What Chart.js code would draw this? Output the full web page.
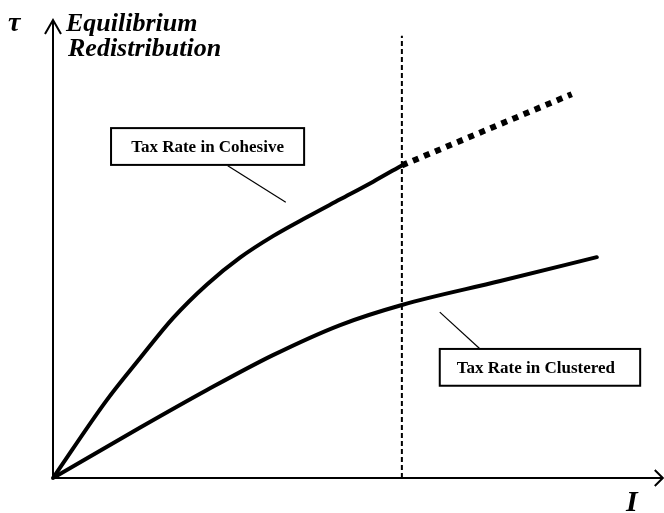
<!DOCTYPE html>
<html>
<head>
<meta charset="utf-8">
<script src="https://cdn.jsdelivr.net/npm/chart.js@4"></script>
<style>
  html, body { margin: 0; padding: 0; background: #fff; }
  #wrap { width: 664px; height: 513px; }
</style>
</head>
<body>
<div id="wrap"><canvas id="myChart" width="664" height="513"></canvas></div>
<script>
// inequality I on x (0..100), redistribution tau on y (0..100)
const cohesiveX = [0, 8.8, 14.2, 19.6, 25.2, 30.6, 36.0, 41.6, 47.0, 52.4, 57.1];
const cohesiveY = [0, 16.3, 25.0, 33.4, 40.5, 46.1, 50.6, 54.6, 58.3, 62.0, 65.4];
const cohesiveExtX = [57.1, 84.9];
const cohesiveExtY = [65.4, 80.3];
const clusteredX = [0, 14.2, 25.2, 36.0, 47.0, 57.1, 73.2, 89.0];
const clusteredY = [0, 10.5, 18.4, 25.7, 32.0, 36.2, 41.2, 46.2];
const thresholdX = 57.1;
const thresholdTop = 92.5;
const axisTopY = 95.8;
const axisRightX = 99.8;

const pts = (xs, ys) => xs.map((x, i) => ({x: x, y: ys[i]}));

const ctx = document.getElementById('myChart');

const serif = '"Liberation Serif", "Times New Roman", serif';

const axesPlugin = {
  id: 'sketchAxes',
  afterDatasetsDraw: (chart) => {
    const {ctx} = chart;
    const xs = chart.scales.x, ys = chart.scales.y;
    const px = v => xs.getPixelForValue(v);
    const py = v => ys.getPixelForValue(v);
    const x0 = px(0), y0 = py(0);
    const top = py(axisTopY), right = px(axisRightX);
    ctx.save();
    ctx.strokeStyle = '#000';
    ctx.lineWidth = 2;
    ctx.lineCap = 'butt';
    ctx.beginPath();
    ctx.moveTo(x0, y0); ctx.lineTo(x0, top);
    ctx.moveTo(x0, y0); ctx.lineTo(right, y0);
    ctx.stroke();
    // arrow heads
    ctx.beginPath();
    ctx.moveTo(x0 - 8, top + 14); ctx.lineTo(x0, top); ctx.lineTo(x0 + 8, top + 14);
    ctx.moveTo(right - 8, y0 - 8); ctx.lineTo(right, y0); ctx.lineTo(right - 8, y0 + 8);
    ctx.stroke();
    ctx.beginPath();
    ctx.arc(x0, y0, 2, 0, Math.PI * 2);
    ctx.fillStyle = '#000';
    ctx.fill();

    // labelled boxes with leader lines
    const boxes = [
      {text: 'Tax Rate in Cohesive', x1: 9.5, x2: 41.1, y1: 73.2, y2: 65.5, align: 'center',
       lead: [28.6, 65.3, 38.1, 57.7]},
      {text: 'Tax Rate in Clustered', x1: 63.3, x2: 96.1, y1: 27.0, y2: 19.3, align: 'left',
       lead: [63.3, 34.7, 69.9, 27.0]}
    ];
    boxes.forEach(b => {
      const l = px(b.x1), r = px(b.x2), t = py(b.y1), bt = py(b.y2);
      ctx.fillStyle = '#fff';
      ctx.fillRect(l, t, r - l, bt - t);
      ctx.lineWidth = 2;
      ctx.strokeRect(l, t, r - l, bt - t);
      ctx.lineWidth = 1.2;
      ctx.beginPath();
      ctx.moveTo(px(b.lead[0]), py(b.lead[1]));
      ctx.lineTo(px(b.lead[2]), py(b.lead[3]));
      ctx.stroke();
      ctx.fillStyle = '#000';
      ctx.font = 'bold 17px ' + serif;
      ctx.textBaseline = 'middle';
      if (b.align === 'center') {
        ctx.textAlign = 'center';
        ctx.fillText(b.text, (l + r) / 2, (t + bt) / 2 + 1);
      } else {
        ctx.textAlign = 'left';
        ctx.fillText(b.text, l + 17, (t + bt) / 2 + 1);
      }
    });

    // axis titles
    ctx.fillStyle = '#000';
    ctx.textAlign = 'left';
    ctx.textBaseline = 'alphabetic';
    ctx.font = 'bold italic 28px ' + serif;
    ctx.fillText('τ', 8, 31);
    ctx.font = 'bold italic 26px ' + serif;
    ctx.fillText('Equilibrium', 66, 31);
    ctx.fillText('Redistribution', 68, 56);
    ctx.font = 'bold italic 30px ' + serif;
    ctx.fillText('I', 626, 511);
    ctx.restore();
  }
};

const config = {
  type: 'line',
  data: {
    datasets: [
      {
        label: 'Tax Rate in Cohesive',
        data: pts(cohesiveX, cohesiveY),
        borderColor: '#000',
        borderWidth: 4,
        borderCapStyle: 'round',
        cubicInterpolationMode: 'monotone',
        pointRadius: 0
      },
      {
        label: 'Cohesive beyond threshold',
        data: pts(cohesiveExtX, cohesiveExtY),
        borderColor: '#000',
        borderWidth: 6,
        borderDash: [6, 6],
        borderCapStyle: 'butt',
        pointRadius: 0
      },
      {
        label: 'Tax Rate in Clustered',
        data: pts(clusteredX, clusteredY),
        borderColor: '#000',
        borderWidth: 4,
        borderCapStyle: 'round',
        cubicInterpolationMode: 'monotone',
        pointRadius: 0
      },
      {
        label: 'Threshold',
        data: [{x: thresholdX, y: 0}, {x: thresholdX, y: thresholdTop}],
        borderColor: '#000',
        borderWidth: 2,
        borderDash: [5, 3],
        pointRadius: 0
      }
    ]
  },
  options: {
    responsive: false,
    animation: false,
    layout: { padding: { left: 53, right: 0, top: 0, bottom: 35 } },
    scales: {
      x: { type: 'linear', min: 0, max: 100, display: false },
      y: { type: 'linear', min: 0, max: 100, display: false }
    },
    plugins: {
      legend: { display: false },
      tooltip: { enabled: false }
    }
  },
  plugins: [axesPlugin]
};

new Chart(ctx, config);
</script>
</body>
</html>
